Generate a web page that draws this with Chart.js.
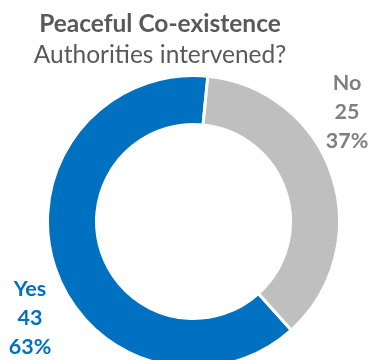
<!DOCTYPE html>
<html>
<head>
<meta charset="utf-8">
<script src="https://cdn.jsdelivr.net/npm/chart.js@4/dist/chart.umd.min.js"></script>
<style>
  html, body { margin: 0; padding: 0; background: #fff; }
  #wrap { width: 372px; height: 360px; position: relative; }
</style>
</head>
<body>
<div id="wrap"><canvas id="chart"></canvas></div>
<script>
// Chart data
const categories = ['Yes', 'No'];
const counts = [43, 25];
const sliceColors = ['#0070C0', '#BFBFBF'];
const labelColors = ['#0070C0', '#7F7F7F'];
const titleText = 'Peaceful Co-existence';
const subtitleText = 'Authorities intervened?';

const total = counts.reduce((a, b) => a + b, 0);

// Title + subtitle drawn left of centre, like the original
const titlePlugin = {
    id: 'titleText',
    afterDraw(chart) {
        const ctx = chart.ctx;
        ctx.save();
        ctx.fillStyle = '#595959';
        ctx.textAlign = 'center';
        ctx.textBaseline = 'alphabetic';
        ctx.font = 'bold 24.5px Lato';
        ctx.fillText(titleText, 160, 32);
        ctx.font = '24.5px Lato';
        ctx.fillText(subtitleText, 160, 63);
        ctx.restore();
    }
};

// Data labels: category, value, percentage placed outside the ring
const labelOffsets = [[-163.5, 74], [153.5, -132]];
const sliceLabelPlugin = {
    id: 'sliceLabels',
    afterDatasetsDraw(chart) {
        const ctx = chart.ctx;
        const meta = chart.getDatasetMeta(0);
        ctx.save();
        ctx.font = 'bold 21.5px Lato';
        ctx.textAlign = 'center';
        ctx.textBaseline = 'alphabetic';
        meta.data.forEach((arc, i) => {
            const pct = Math.round(counts[i] / total * 100) + '%';
            const lines = [categories[i], String(counts[i]), pct];
            const x = arc.x + labelOffsets[i][0];
            const y = arc.y + labelOffsets[i][1];
            ctx.fillStyle = labelColors[i];
            lines.forEach((t, j) => ctx.fillText(t, x, y + j * 29));
        });
        ctx.restore();
    }
};

new Chart(document.getElementById('chart'), {
    type: 'doughnut',
    data: {
        labels: categories,
        datasets: [{
            data: counts,
            backgroundColor: sliceColors,
            borderColor: '#ffffff',
            borderWidth: 3,
            clip: false
        }]
    },
    options: {
        responsive: true,
        maintainAspectRatio: false,
        animation: false,
        rotation: 138,
        radius: 146,
        cutout: 91,
        layout: { padding: { top: 83, bottom: 0, left: 15, right: 0 } },
        plugins: {
            legend: { display: false },
            title: { display: false },
            tooltip: { enabled: false }
        }
    },
    plugins: [titlePlugin, sliceLabelPlugin]
});
</script>
</body>
</html>
